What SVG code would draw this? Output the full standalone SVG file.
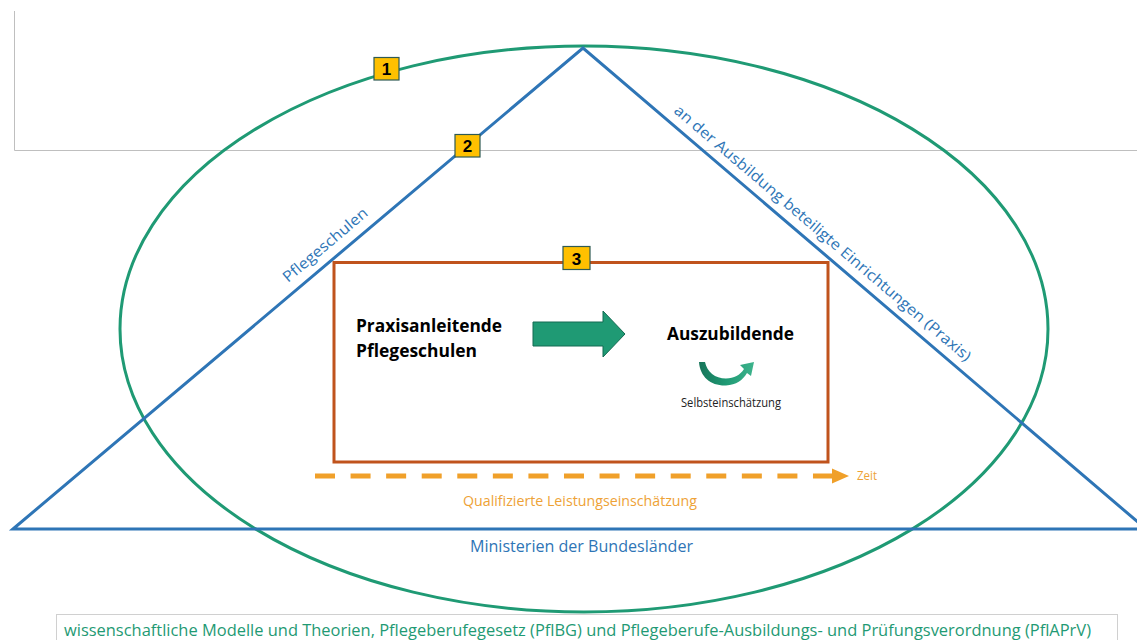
<svg xmlns="http://www.w3.org/2000/svg" width="1137" height="640" viewBox="0 0 1137 640">
  <style>
    .frame { fill: none; stroke: #BFBFBF; stroke-width: 1; }
    .tri { fill: none; stroke: #2E75B6; stroke-width: 3; stroke-linejoin: miter; }
    .ell { fill: none; stroke: #1F9A74; stroke-width: 3; }
    .badge rect { fill: #FFC000; stroke: #2F5A54; stroke-width: 1.2; }
    .badge text { font-family: "Liberation Sans", Arial, sans-serif; font-weight: bold; font-size: 17px; fill: #000; text-anchor: middle; }
    .calib { font-family: "Open Sans", "Liberation Sans", sans-serif; }
    .blue { fill: #2E75B6; }
    .orange { fill: #EEA236; }
    .green { fill: #1F9A74; }
    .bold { font-weight: bold; fill: #000; }
  </style>
  <defs>
    <linearGradient id="cg" x1="0" y1="0" x2="1" y2="0">
      <stop offset="0" stop-color="#17755A"/>
      <stop offset="0.5" stop-color="#1F9A74"/>
      <stop offset="1" stop-color="#3DB38C"/>
    </linearGradient>
  </defs>
  <rect width="1137" height="640" fill="#FFFFFF"/>

  <g id="frame">
    <path class="frame" d="M14.5,11 L14.5,150.5 L1137,150.5"/>
  </g>

  <g id="ellipse-1">
    <ellipse class="ell" cx="584" cy="329" rx="464" ry="283"/>
  </g>

  <g id="triangle-2">
    <path class="tri" d="M13,529 L583,48 L1146,529 Z"/>
    <text class="calib blue" font-size="15" transform="translate(288,283) rotate(-40.2)" textLength="106" lengthAdjust="spacingAndGlyphs">Pflegeschulen</text>
    <text class="calib blue" font-size="15" transform="translate(673,112) rotate(40.5)" textLength="385" lengthAdjust="spacingAndGlyphs">an der Ausbildung beteiligte Einrichtungen (Praxis)</text>
    <text class="calib blue" font-size="16" x="470" y="552" textLength="223" lengthAdjust="spacingAndGlyphs">Ministerien der Bundesländer</text>
  </g>

  <g id="box-3">
    <rect x="334" y="262.5" width="494" height="199.5" fill="none" stroke="#C0531C" stroke-width="3"/>
  </g>

  <g id="praxisanleitende">
    <text class="calib bold" font-size="18" x="356" y="332" textLength="146" lengthAdjust="spacingAndGlyphs">Praxisanleitende</text>
    <text class="calib bold" font-size="18" x="356" y="357" textLength="121" lengthAdjust="spacingAndGlyphs">Pflegeschulen</text>
  </g>

  <g id="auszubildende">
    <text class="calib bold" font-size="18" x="667" y="340" textLength="127" lengthAdjust="spacingAndGlyphs">Auszubildende</text>
    <path d="M699,362 C700,377 711,386 726,385.5 C736,385 743,380 747,373 L751,376 L754,362 L740,365 L744,369 C740,375 734,378.5 726,378.5 C715,378.5 707,372 705,362 Z" fill="url(#cg)"/>
    <text class="calib" font-size="12" x="681" y="407" fill="#222" textLength="100" lengthAdjust="spacingAndGlyphs">Selbsteinschätzung</text>
  </g>

  <g id="connectors">
    <path d="M533,322 L603,322 L603,311 L625,334 L603,357 L603,346 L533,346 Z" fill="#1F9A74" stroke="#146B52" stroke-width="1"/>
    <path d="M315,476 L833,476" stroke="#F0A02A" stroke-width="5" fill="none" stroke-dasharray="20 15.57"/>
    <path d="M832,468.5 L849,476 L832,483.5 Z" fill="#F0A02A"/>
  </g>

  <g id="zeit">
    <text class="calib orange" font-size="12" x="857" y="480" textLength="20" lengthAdjust="spacingAndGlyphs">Zeit</text>
  </g>

  <g id="leistung">
    <text class="calib orange" font-size="14" x="463" y="506" textLength="234" lengthAdjust="spacingAndGlyphs">Qualifizierte Leistungseinschätzung</text>
  </g>

  <g id="badge-1" class="badge">
    <rect x="374" y="57.5" width="25" height="22.5"/>
    <text x="386.5" y="75">1</text>
  </g>
  <g id="badge-2" class="badge">
    <rect x="455" y="134.5" width="25" height="22.5"/>
    <text x="467.5" y="152">2</text>
  </g>
  <g id="badge-3" class="badge">
    <rect x="563" y="246.5" width="27" height="23"/>
    <text x="576.5" y="264.5">3</text>
  </g>

  <g id="bottom-box">
    <rect x="56.5" y="614.5" width="1061" height="40" fill="#FFFFFF" stroke="#D0D0D0" stroke-width="1"/>
    <text class="calib green" font-size="16" x="64" y="636" textLength="1027" lengthAdjust="spacingAndGlyphs">wissenschaftliche Modelle und Theorien, Pflegeberufegesetz (PflBG) und Pflegeberufe-Ausbildungs- und Prüfungsverordnung (PflAPrV)</text>
  </g>
</svg>
